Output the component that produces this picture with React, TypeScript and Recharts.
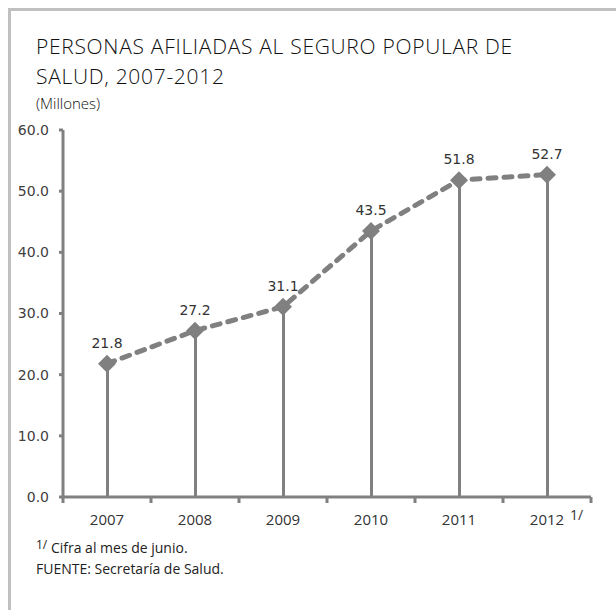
import {
  ComposedChart,
  Bar,
  Line,
  XAxis,
  YAxis,
  LabelList,
} from 'recharts';

const years = ['2007', '2008', '2009', '2010', '2011', '2012'];
const afiliados = [21.8, 27.2, 31.1, 43.5, 51.8, 52.7];
const yTicks = [0, 10, 20, 30, 40, 50, 60];

const GRAY = '#808080';
const TEXT = '#333333';
const BAND = (616 - 63 - 25) / years.length;

const data = years.map((year, i) => ({ year, value: afiliados[i] }));

function Diamond({ cx, cy }: { cx?: number; cy?: number }) {
  if (cx == null || cy == null) return null;
  const r = 9;
  return (
    <path
      d={`M${cx},${cy - r}L${cx + r},${cy}L${cx},${cy + r}L${cx - r},${cy}Z`}
      fill={GRAY}
    />
  );
}

function YearTick({
  x,
  y,
  payload,
  index,
}: {
  x?: number;
  y?: number;
  payload?: { value: string };
  index?: number;
}) {
  if (x == null || y == null || !payload) return null;
  const last = index === years.length - 1;
  return (
    <g>
      <line x1={x - BAND / 2} x2={x - BAND / 2} y1={y} y2={y + 6} stroke={GRAY} strokeWidth={3} />
      {last && (
        <line x1={x + BAND / 2} x2={x + BAND / 2} y1={y} y2={y + 6} stroke={GRAY} strokeWidth={3} />
      )}
      <text
        x={x}
        y={y + 28}
        textAnchor="middle"
        fill={TEXT}
        fontFamily="'Open Sans', sans-serif"
        fontSize={15}
      >
        {payload.value}
      </text>
      {last && (
        <text x={x + 23} y={y + 23} fill={TEXT} fontFamily="'Open Sans', sans-serif" fontSize={14}>
          1/
        </text>
      )}
    </g>
  );
}

export default function App() {
  return (
    <div style={wrapStyle}>
      <div style={frameStyle} />
      <div style={titleStyle}>
        PERSONAS AFILIADAS AL SEGURO POPULAR DE
        <br />
        SALUD, 2007-2012
      </div>
      <div style={unitStyle}>(Millones)</div>
      <div style={chartStyle}>
        <ComposedChart
          width={616}
          height={610}
          data={data}
          margin={{ top: 130, right: 25, bottom: 83, left: 0 }}
        >
          <XAxis
            dataKey="year"
            height={30}
            axisLine={{ stroke: GRAY, strokeWidth: 3 }}
            tickLine={false}
            tickSize={0}
            tickMargin={0}
            tick={<YearTick />}
            interval={0}
          />
          <YAxis
            width={63}
            domain={[0, 60]}
            ticks={yTicks}
            tickFormatter={(v: number) => v.toFixed(1)}
            axisLine={{ stroke: GRAY, strokeWidth: 3 }}
            tickLine={{ stroke: GRAY, strokeWidth: 3 }}
            tickSize={4}
            tickMargin={10}
            tick={{ fill: '#404040', fontSize: 14, fontFamily: "'DejaVu Sans', sans-serif" }}
          />
          <Bar dataKey="value" barSize={3} fill={GRAY} isAnimationActive={false} />
          <Line
            type="linear"
            dataKey="value"
            stroke={GRAY}
            strokeWidth={5}
            strokeDasharray="8 8"
            strokeLinecap="round"
            dot={<Diamond />}
            activeDot={false}
            isAnimationActive={false}
          >
            <LabelList
              dataKey="value"
              position="top"
              offset={16}
              fill={TEXT}
              fontSize={14}
              fontFamily="'DejaVu Sans', sans-serif"
              formatter={(v: number) => v.toFixed(1)}
            />
          </Line>
        </ComposedChart>
      </div>
      <div style={{ ...noteStyle, top: 540 }}>
        <span style={{ fontSize: 12, verticalAlign: 4, lineHeight: 0 }}>1/</span> Cifra al mes de junio.
      </div>
      <div style={{ ...noteStyle, top: 561 }}>FUENTE: Secretaría de Salud.</div>
    </div>
  );
}

const wrapStyle: React.CSSProperties = {
  position: 'absolute',
  left: 0,
  top: 0,
  width: 616,
  height: 610,
  background: '#ffffff',
  overflow: 'hidden',
};

const frameStyle: React.CSSProperties = {
  position: 'absolute',
  left: 8,
  top: 8,
  right: 0,
  bottom: 0,
  borderTop: '3px solid #c0c0c0',
  borderLeft: '3px solid #c0c0c0',
};

const chartStyle: React.CSSProperties = {
  position: 'absolute',
  left: 0,
  top: 0,
};

const titleStyle: React.CSSProperties = {
  position: 'absolute',
  left: 36,
  top: 31,
  fontFamily: "'Open Sans', sans-serif",
  fontWeight: 300,
  fontSize: 21,
  letterSpacing: 0.7,
  lineHeight: '30px',
  color: '#111111',
  whiteSpace: 'nowrap',
};

const unitStyle: React.CSSProperties = {
  position: 'absolute',
  left: 36,
  top: 93,
  fontFamily: "'Open Sans', sans-serif",
  fontWeight: 300,
  fontSize: 15,
  color: '#111111',
};

const noteStyle: React.CSSProperties = {
  position: 'absolute',
  left: 36,
  fontFamily: "'Open Sans', sans-serif",
  fontSize: 14,
  lineHeight: '16px',
  color: '#222222',
  whiteSpace: 'nowrap',
};
